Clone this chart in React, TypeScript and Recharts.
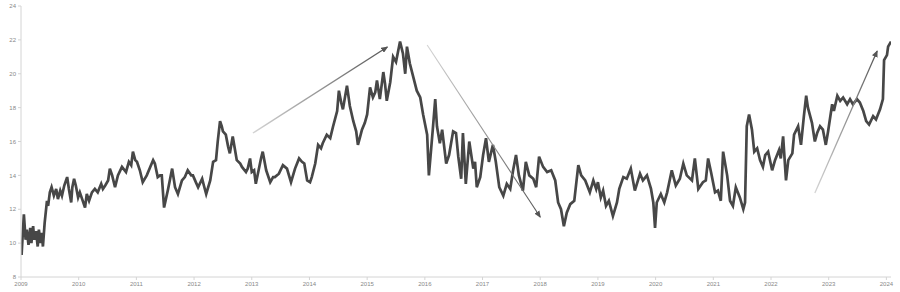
import React from "react";
import { LineChart, Line, XAxis, YAxis, ReferenceLine } from "recharts";

const years: number[] = [
  2009.01, 2009.03, 2009.05, 2009.08, 2009.10, 2009.13, 2009.16, 2009.18, 2009.21, 2009.23,
  2009.26, 2009.29, 2009.31, 2009.34, 2009.36, 2009.38, 2009.41, 2009.45, 2009.47, 2009.50,
  2009.53, 2009.57, 2009.61, 2009.64, 2009.68, 2009.71, 2009.75, 2009.80, 2009.83, 2009.87,
  2009.89, 2009.92, 2009.95, 2009.99, 2010.02, 2010.06, 2010.11, 2010.14, 2010.18, 2010.23,
  2010.28, 2010.33, 2010.39, 2010.42, 2010.46, 2010.51, 2010.54, 2010.58, 2010.63, 2010.68,
  2010.75, 2010.82, 2010.87, 2010.91, 2010.94, 2010.98, 2011.01, 2011.06, 2011.11, 2011.18,
  2011.24, 2011.29, 2011.32, 2011.37, 2011.41, 2011.44, 2011.48, 2011.55, 2011.62, 2011.67,
  2011.72, 2011.79, 2011.84, 2011.89, 2011.95, 2011.98, 2012.03, 2012.07, 2012.14, 2012.17,
  2012.21, 2012.28, 2012.33, 2012.38, 2012.41, 2012.45, 2012.48, 2012.50, 2012.55, 2012.59,
  2012.62, 2012.67, 2012.71, 2012.74, 2012.80, 2012.83, 2012.90, 2012.93, 2012.97, 2013.00,
  2013.04, 2013.07, 2013.13, 2013.16, 2013.19, 2013.25, 2013.32, 2013.37, 2013.40, 2013.47,
  2013.54, 2013.61, 2013.68, 2013.75, 2013.82, 2013.87, 2013.91, 2013.96, 2014.01, 2014.04,
  2014.10, 2014.15, 2014.20, 2014.23, 2014.30, 2014.36, 2014.41, 2014.48, 2014.51, 2014.55,
  2014.58, 2014.65, 2014.70, 2014.76, 2014.81, 2014.84, 2014.88, 2014.91, 2014.96, 2015.00,
  2015.05, 2015.10, 2015.14, 2015.17, 2015.22, 2015.28, 2015.31, 2015.34, 2015.40, 2015.45,
  2015.50, 2015.57, 2015.62, 2015.66, 2015.69, 2015.74, 2015.80, 2015.86, 2015.92, 2015.97,
  2016.04, 2016.07, 2016.11, 2016.14, 2016.18, 2016.21, 2016.26, 2016.30, 2016.37, 2016.42,
  2016.49, 2016.54, 2016.58, 2016.63, 2016.66, 2016.71, 2016.77, 2016.84, 2016.87, 2016.90,
  2016.96, 2017.01, 2017.06, 2017.11, 2017.18, 2017.23, 2017.29, 2017.36, 2017.42, 2017.48,
  2017.53, 2017.58, 2017.63, 2017.70, 2017.75, 2017.81, 2017.88, 2017.93, 2017.98, 2018.05,
  2018.12, 2018.19, 2018.26, 2018.31, 2018.36, 2018.41, 2018.46, 2018.52, 2018.59, 2018.66,
  2018.71, 2018.78, 2018.86, 2018.92, 2018.97, 2019.00, 2019.05, 2019.09, 2019.14, 2019.19,
  2019.26, 2019.33, 2019.37, 2019.44, 2019.50, 2019.57, 2019.64, 2019.73, 2019.78, 2019.85,
  2019.92, 2019.96, 2019.99, 2020.02, 2020.09, 2020.15, 2020.20, 2020.28, 2020.35, 2020.42,
  2020.48, 2020.54, 2020.63, 2020.68, 2020.74, 2020.82, 2020.87, 2020.91, 2020.96, 2021.03,
  2021.08, 2021.13, 2021.17, 2021.24, 2021.29, 2021.34, 2021.39, 2021.46, 2021.52, 2021.55,
  2021.58, 2021.62, 2021.67, 2021.71, 2021.76, 2021.81, 2021.86, 2021.90, 2021.95, 2022.02,
  2022.07, 2022.14, 2022.17, 2022.21, 2022.26, 2022.30, 2022.37, 2022.40, 2022.47, 2022.52,
  2022.57, 2022.61, 2022.64, 2022.71, 2022.76, 2022.80, 2022.85, 2022.90, 2022.95, 2022.99,
  2023.06, 2023.09, 2023.15, 2023.20, 2023.25, 2023.32, 2023.37, 2023.42, 2023.49, 2023.54,
  2023.60, 2023.65, 2023.70, 2023.77, 2023.82, 2023.89, 2023.94, 2023.96, 2024.01, 2024.03,
  2024.08,
];

const values: number[] = [
  9.3, 10.5, 11.7, 10.2, 10.8, 9.9, 10.9, 10.0, 11.0, 10.2,
  10.7, 9.8, 10.8, 10.0, 10.6, 9.8, 11.2, 12.5, 12.2, 13.0,
  13.3, 12.8, 13.2, 12.6, 13.1, 12.8, 13.4, 13.9, 13.2, 12.4,
  13.3, 13.8, 13.4, 12.7, 13.0, 12.6, 12.1, 12.9, 12.5, 13.0,
  13.2, 13.0, 13.5, 13.2, 13.4, 13.7, 14.4, 14.0, 13.3, 14.0,
  14.5, 14.2, 14.8, 14.6, 15.4, 14.9, 14.8, 14.3, 13.6, 14.0,
  14.5, 14.9, 14.7, 13.9, 14.0, 14.0, 12.1, 13.2, 14.4, 13.3,
  12.9, 13.7, 13.9, 14.3, 14.0, 14.0, 13.6, 13.3, 13.8, 13.4,
  12.9, 13.7, 14.8, 14.9, 16.0, 17.2, 16.9, 16.6, 16.4, 15.7,
  15.3, 16.3, 15.5, 14.9, 14.7, 14.5, 14.2, 14.4, 15.0, 14.2,
  14.3, 13.5, 14.5, 15.0, 15.4, 14.3, 13.6, 13.9, 13.9, 14.1,
  14.6, 14.4, 13.6, 14.4, 15.0, 14.8, 14.7, 13.7, 13.6, 13.9,
  14.7, 15.8, 15.6, 15.9, 16.4, 16.2, 16.9, 17.8, 19.0, 18.3,
  17.9, 19.3, 18.1, 17.2, 16.6, 15.8, 16.3, 16.7, 17.1, 17.6,
  19.2, 18.6, 18.9, 19.6, 18.5, 20.1, 19.4, 18.4, 19.5, 21.0,
  20.7, 21.9, 21.2, 20.0, 21.6, 20.6, 19.8, 19.0, 18.6, 17.6,
  16.4, 14.0, 15.6, 16.8, 18.5, 16.9, 15.9, 16.7, 14.7, 15.2,
  16.6, 16.5, 15.1, 13.8, 16.5, 13.5, 16.0, 14.4, 14.8, 13.3,
  13.9, 15.2, 16.2, 14.8, 15.8, 14.8, 13.3, 12.8, 13.5, 13.2,
  14.3, 15.2, 14.0, 13.1, 14.8, 14.0, 13.8, 13.3, 15.1, 14.5,
  14.2, 14.3, 13.7, 12.4, 12.0, 11.0, 11.8, 12.3, 12.5, 14.6,
  14.0, 13.7, 13.0, 13.7, 13.2, 13.6, 12.7, 13.1, 12.2, 12.5,
  11.6, 12.4, 13.2, 13.9, 13.8, 14.4, 13.1, 14.1, 13.7, 14.0,
  13.2, 12.4, 10.9, 12.4, 12.9, 12.4, 13.0, 14.3, 13.4, 13.8,
  14.7, 14.0, 13.7, 15.0, 13.2, 13.6, 13.7, 15.0, 14.2, 13.0,
  13.1, 12.5, 15.4, 14.0, 12.5, 12.2, 13.3, 12.7, 12.0, 12.4,
  16.9, 17.6, 16.7, 15.4, 15.6, 14.9, 14.5, 15.2, 15.4, 14.3,
  14.9, 15.5, 15.0, 16.3, 13.7, 14.9, 15.3, 16.4, 16.9, 15.8,
  17.5, 18.7, 18.0, 17.1, 16.0, 16.5, 16.9, 16.7, 15.8, 16.6,
  18.2, 17.8, 18.7, 18.4, 18.6, 18.2, 18.5, 18.2, 18.5, 18.3,
  17.8, 17.2, 17.0, 17.5, 17.3, 17.9, 18.5, 20.8, 21.1, 21.6,
  21.9,
];

const yearTicks: number[] = [
  2009, 2010, 2011, 2012, 2013, 2014, 2015, 2016, 2017, 2018, 2019, 2020, 2021, 2022, 2023, 2024,
];
const valueTicks: number[] = [8, 10, 12, 14, 16, 18, 20, 22, 24];

// trend arrows
const arrowStartYears: number[] = [2013.02, 2016.04, 2022.76];
const arrowStartValues: number[] = [16.5, 21.7, 12.96];
const arrowEndYears: number[] = [2015.35, 2018.0, 2023.84];
const arrowEndValues: number[] = [21.58, 11.54, 21.34];
const arrowWidths: number[] = [1.4, 1.1, 1.3];

const data = years.map((y, i) => ({ t: y, v: values[i] }));

const makeArrow = (w: number) => (p: any) => (
  <line
    x1={p.x1}
    y1={p.y1}
    x2={p.x2}
    y2={p.y2}
    stroke="url(#arrowGrad)"
    strokeWidth={w}
    markerEnd="url(#arrowHead)"
  />
);

export default function App() {
  const tickStyle = { fontSize: 6, fill: "#888", fontFamily: "Liberation Sans, Arial, sans-serif" };
  return (
    <div style={{ position: "absolute", left: 0, top: 0, width: 900, height: 292, background: "#fff" }}>
      <svg width={0} height={0} style={{ position: "absolute" }}>
        <defs>
          <linearGradient id="arrowGrad" x1="0" y1="0" x2="1" y2="0">
            <stop offset="0%" stopColor="#d4d4d4" />
            <stop offset="100%" stopColor="#555" />
          </linearGradient>
          <marker
            id="arrowHead"
            markerUnits="userSpaceOnUse"
            markerWidth={7}
            markerHeight={6}
            refX={6}
            refY={3}
            orient="auto"
          >
            <path d="M0,0 L7,3 L0,6 z" fill="#555" />
          </marker>
        </defs>
      </svg>
      <LineChart width={900} height={292} data={data} margin={{ top: 6, right: 9, left: 0, bottom: 0 }}>
        <XAxis
          dataKey="t"
          type="number"
          domain={[2009, 2024.08]}
          ticks={yearTicks}
          tickFormatter={(v: number) => String(Math.round(v))}
          tick={tickStyle}
          tickSize={3}
          height={15}
          stroke="#d4d4d4"
          interval={0}
          allowDataOverflow
        />
        <YAxis
          type="number"
          domain={[8, 24]}
          ticks={valueTicks}
          tick={tickStyle}
          tickSize={3}
          width={21}
          stroke="#d4d4d4"
          interval={0}
          allowDataOverflow
        />
        <Line
          type="linear"
          dataKey="v"
          stroke="#474747"
          strokeWidth={2.7}
          dot={false}
          activeDot={false}
          isAnimationActive={false}
        />
        {arrowStartYears.map((sx, i) => (
          <ReferenceLine
            key={i}
            segment={[
              { x: sx, y: arrowStartValues[i] },
              { x: arrowEndYears[i], y: arrowEndValues[i] },
            ]}
            ifOverflow="visible"
            shape={makeArrow(arrowWidths[i])}
          />
        ))}
      </LineChart>
    </div>
  );
}
